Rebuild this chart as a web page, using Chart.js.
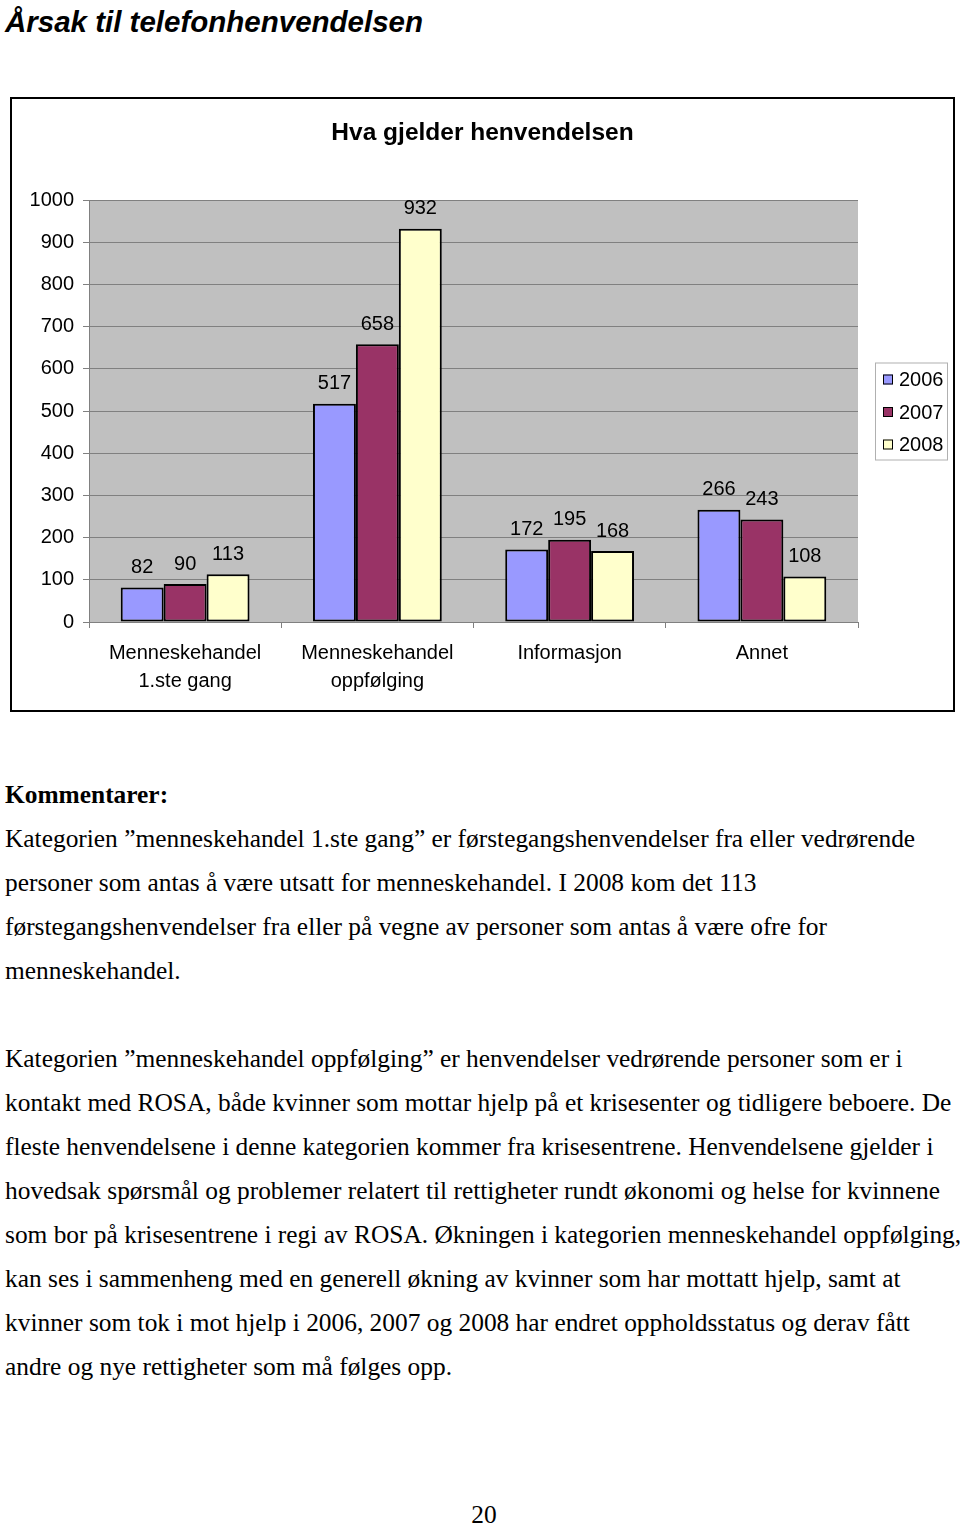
<!DOCTYPE html>
<html>
<head>
<meta charset="utf-8">
<script src="https://cdn.jsdelivr.net/npm/chart.js@4/dist/chart.umd.min.js"></script>
<style>
    body { margin: 0; width: 960px; height: 1525px; background: #fff; position: relative; overflow: hidden; }
    h1 { position: absolute; left: 5px; top: 3px; margin: 0; font: italic bold 29.5px "Liberation Sans", Arial, sans-serif; line-height: 38px; color: #000; }
    #box { position: absolute; left: 10px; top: 97px; width: 941px; height: 611px; border: 2px solid #000; }
    #box canvas { display: block; }
    #text { position: absolute; left: 5px; top: 772px; font: 25.4px "Liberation Serif", "Times New Roman", serif; line-height: 44px; white-space: nowrap; color: #000; }
    #page { position: absolute; left: 0; width: 968px; top: 1500px; text-align: center; font: 25.4px "Liberation Serif", serif; }
</style>
</head>
<body>
<h1>Årsak til telefonhenvendelsen</h1>
<div id="box"><canvas id="chart" width="941" height="611"></canvas></div>
<div id="text">
<b>Kommentarer:</b><br>
Kategorien ”menneskehandel 1.ste gang” er førstegangshenvendelser fra eller vedrørende<br>
personer som antas å være utsatt for menneskehandel. I 2008 kom det 113<br>
førstegangshenvendelser fra eller på vegne av personer som antas å være ofre for<br>
menneskehandel.<br>
<br>
Kategorien ”menneskehandel oppfølging” er henvendelser vedrørende personer som er i<br>
kontakt med ROSA, både kvinner som mottar hjelp på et krisesenter og tidligere beboere. De<br>
fleste henvendelsene i denne kategorien kommer fra krisesentrene. Henvendelsene gjelder i<br>
hovedsak spørsmål og problemer relatert til rettigheter rundt økonomi og helse for kvinnene<br>
som bor på krisesentrene i regi av ROSA. Økningen i kategorien menneskehandel oppfølging,<br>
kan ses i sammenheng med en generell økning av kvinner som har mottatt hjelp, samt at<br>
kvinner som tok i mot hjelp i 2006, 2007 og 2008 har endret oppholdsstatus og derav fått<br>
andre og nye rettigheter som må følges opp.
</div>
<div id="page">20</div>

<script>
const categories = [["Menneskehandel", "1.ste gang"], ["Menneskehandel", "oppfølging"], "Informasjon", "Annet"];
const years = ["2006", "2007", "2008"];
const values2006 = [82, 517, 172, 266];
const values2007 = [90, 658, 195, 243];
const values2008 = [113, 932, 168, 108];
const yearColors = ["#9999ff", "#993366", "#ffffcc"];
const chartTitle = "Hva gjelder henvendelsen";

const FONT = "'Liberation Sans', Arial, sans-serif";

// grey plot background + title centred over the whole box
const plotBackground = {
    id: "plotBackground",
    beforeDraw(chart) {
        const { ctx, chartArea: a } = chart;
        ctx.save();
        ctx.fillStyle = "#c0c0c0";
        ctx.fillRect(a.left, a.top, a.right - a.left, a.bottom - a.top);
        ctx.fillStyle = "#000";
        ctx.font = "bold 24.5px " + FONT;
        ctx.textAlign = "center";
        ctx.textBaseline = "middle";
        ctx.fillText(chartTitle, chart.width / 2, 34);
        ctx.restore();
    }
};

// numbers above the bars
const valueLabels = {
    id: "valueLabels",
    afterDatasetsDraw(chart) {
        const ctx = chart.ctx;
        ctx.save();
        ctx.font = "20px " + FONT;
        ctx.fillStyle = "#000";
        ctx.textAlign = "center";
        ctx.textBaseline = "middle";
        chart.data.datasets.forEach((ds, i) => {
            chart.getDatasetMeta(i).data.forEach((bar, j) => {
                ctx.fillText(ds.data[j], bar.x, bar.y - 20);
            });
        });
        ctx.restore();
    }
};

// boxed legend on the right
const boxLegend = {
    id: "boxLegend",
    afterDraw(chart) {
        const ctx = chart.ctx;
        const a = chart.chartArea;
        const x = a.right + 17, w = 72, h = 97;
        const y = (a.top + a.bottom) / 2 - h / 2;
        ctx.save();
        ctx.strokeStyle = "#b0b0b0";
        ctx.lineWidth = 1;
        ctx.strokeRect(x + 0.5, y + 0.5, w, h);
        ctx.font = "20px " + FONT;
        ctx.textBaseline = "middle";
        chart.data.datasets.forEach((ds, i) => {
            const cy = y + 17 + i * 32.5;
            ctx.fillStyle = ds.backgroundColor;
            ctx.fillRect(x + 8, cy - 5, 10, 10);
            ctx.strokeStyle = "#000";
            ctx.strokeRect(x + 8.5, cy - 4.5, 9, 9);
            ctx.fillStyle = "#000";
            ctx.fillText(ds.label, x + 24, cy + 1);
        });
        ctx.restore();
    }
};

const seriesValues = [values2006, values2007, values2008];

new Chart(document.getElementById("chart"), {
    type: "bar",
    data: {
        labels: categories,
        datasets: years.map((y, i) => ({
            label: y,
            data: seriesValues[i],
            backgroundColor: yearColors[i],
            borderColor: "#000",
            borderWidth: 2,
            borderSkipped: false,
            categoryPercentage: 0.67,
            barPercentage: 1.0
        }))
    },
    options: {
        responsive: false,
        animation: false,
        layout: { padding: { left: 0, right: 95, top: 101, bottom: 0 } },
        plugins: {
            legend: { display: false },
            tooltip: { enabled: false },
            title: { display: false }
        },
        scales: {
            x: {
                grid: { display: true, drawOnChartArea: false, drawTicks: true, tickLength: 6, color: "#808080", offset: true },
                border: { color: "#808080", width: 1 },
                ticks: { color: "#000", font: { family: FONT, size: 20, lineHeight: 1.4 }, padding: 11, maxRotation: 0, autoSkip: false },
                afterFit(scale) { scale.height = 88; }
            },
            y: {
                min: 0,
                max: 1000,
                ticks: { stepSize: 100, color: "#000", font: { family: FONT, size: 20 }, padding: 9, callback: v => String(v) },
                grid: { color: "#808080", tickLength: 6, lineWidth: 1 },
                border: { color: "#808080", width: 1 },
                afterFit(scale) { scale.width = 77; }
            }
        }
    },
    plugins: [plotBackground, valueLabels, boxLegend]
});
</script>
</body>
</html>
